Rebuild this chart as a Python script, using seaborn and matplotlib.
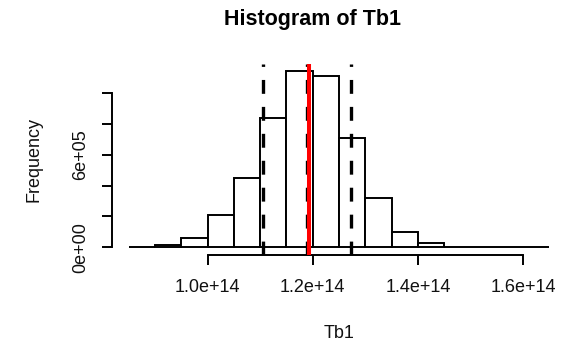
import numpy as np
import pandas as pd
import matplotlib
matplotlib.use("Agg")
import matplotlib.pyplot as plt
import seaborn as sns

# Histogram bins (break points) and the count in each bin
bin_edges = [8.5e13, 9.0e13, 9.5e13, 1.00e14, 1.05e14, 1.10e14, 1.15e14, 1.20e14,
             1.25e14, 1.30e14, 1.35e14, 1.40e14, 1.45e14, 1.50e14, 1.55e14, 1.60e14, 1.65e14]
bin_counts = [1500, 13000, 58000, 207000, 449000, 834000, 1140000, 1105000,
              708000, 320000, 102000, 26000, 6000, 2000, 500, 200]

# Reference lines: interval bounds, centre, and mean
interval_lines = [1.1057e14, 1.1882e14, 1.2724e14]
mean_line = 1.1920e14

x_ticks = [1.0e14, 1.2e14, 1.4e14, 1.6e14]
x_tick_labels = ["1.0e+14", "1.2e+14", "1.4e+14", "1.6e+14"]
y_ticks = [0, 2e5, 4e5, 6e5, 8e5, 1e6]
y_tick_labels = ["0e+00", "", "", "6e+05", "", ""]

sns.set_style("white")
plt.rcParams["font.family"] = ["Liberation Sans", "DejaVu Sans"]
plt.rcParams["lines.scale_dashes"] = False

W, H = 566, 347
fig = plt.figure(figsize=(W / 100, H / 100), dpi=100)

# plot region in pixels
left_px, right_px = 112, 566
top_px, bottom_px = 64, 254.5
ax = fig.add_axes([left_px / W, 1 - bottom_px / H,
                   (right_px - left_px) / W, (bottom_px - top_px) / H])

centers = [(a + b) / 2 for a, b in zip(bin_edges[:-1], bin_edges[1:])]
df = pd.DataFrame({"Tb1": centers, "count": bin_counts})

sns.histplot(data=df, x="Tb1", weights="count", bins=bin_edges, ax=ax,
             stat="count", facecolor="white", edgecolor="black",
             linewidth=1.4, alpha=1, zorder=2)

xr = bin_edges[-1] - bin_edges[0]
ax.set_xlim(bin_edges[0] - 0.04 * xr, bin_edges[-1] + 0.04 * xr)
ymax = max(bin_counts)
ax.set_ylim(-0.04 * ymax, 1.04 * ymax)

for xv in interval_lines:
    ax.axvline(xv, color="black", lw=2.4, linestyle=(0, (10, 9.4)), zorder=3)
ax.axvline(mean_line, color="#ff0000", lw=2.9, zorder=4)

for s in ["top", "right"]:
    ax.spines[s].set_visible(False)
for s in ["left", "bottom"]:
    ax.spines[s].set_linewidth(1.4)
    ax.spines[s].set_color("black")
ax.spines["left"].set_bounds(0, 1e6)
ax.spines["bottom"].set_bounds(x_ticks[0], x_ticks[-1])

ax.set_xticks(x_ticks)
ax.set_xticklabels(x_tick_labels)
ax.set_yticks(y_ticks)
ax.set_yticklabels(y_tick_labels, rotation=90, va="center")
ax.tick_params(axis="both", which="major", bottom=True, left=True,
               direction="out", length=7.2, width=1.4,
               color="black", labelsize=13, labelcolor="#111111")
ax.tick_params(axis="x", pad=10.5)
ax.tick_params(axis="y", pad=9)
ax.set_xlabel("")
ax.set_ylabel("")
ax.grid(False)

fig.text(312.5 / W, 1 - 20 / H, "Histogram of Tb1", ha="center", va="center",
         fontsize=15.5, fontweight="bold", color="black")
fig.text(339 / W, 1 - 333 / H, "Tb1", ha="center", va="center",
         fontsize=13, color="#111111")
fig.text(34.5 / W, 1 - 159.5 / H, "Frequency", ha="center", va="center",
         rotation=90, fontsize=13, color="#111111")

fig.savefig("out.png", dpi=100, facecolor="white")
